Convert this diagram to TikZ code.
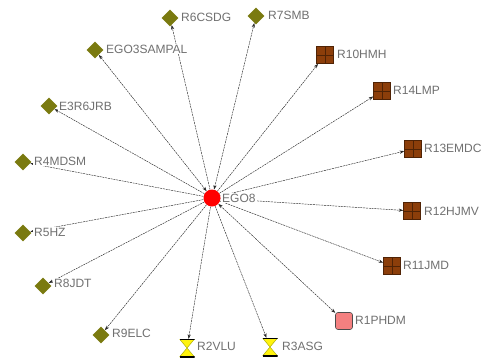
\documentclass[tikz,border=0pt]{standalone}
\usepackage{fontspec}
\setmainfont{Liberation Sans}
\usetikzlibrary{shapes.geometric,arrows.meta,backgrounds}
\definecolor{olivenode}{RGB}{122,122,16}
\definecolor{brownnode}{RGB}{140,62,10}
\definecolor{browndark}{RGB}{80,35,5}
\definecolor{pinknode}{RGB}{244,128,128}
\definecolor{labelgray}{RGB}{112,112,112}
\definecolor{edgegray}{RGB}{40,40,40}
\tikzset{
  olive/.style={diamond,fill=olivenode,inner sep=0pt,minimum width=17pt,minimum height=17pt},
  brownbox/.style={rectangle,fill=brownnode,draw=browndark,line width=0.6pt,inner sep=0pt,minimum size=17pt,
    path picture={\draw[browndark,line width=0.9pt] (path picture bounding box.north) -- (path picture bounding box.south);
                  \draw[browndark,line width=0.9pt] (path picture bounding box.west) -- (path picture bounding box.east);}},
  pinkbox/.style={rectangle,rounded corners=2.5pt,fill=pinknode,draw=black!70,line width=0.6pt,inner sep=0pt,minimum size=17pt},
  hourglass/.style={rectangle,inner sep=0pt,minimum width=15pt,minimum height=18pt,
    path picture={\fill[yellow!95!white] (path picture bounding box.north west) -- (path picture bounding box.north east)
                    -- (path picture bounding box.south west) -- (path picture bounding box.south east) -- cycle;
                  \draw[olivenode!60!yellow,line width=0.5pt] (path picture bounding box.north west) -- (path picture bounding box.south east)
                    (path picture bounding box.north east) -- (path picture bounding box.south west);
                  \draw[black,line width=1.4pt] (path picture bounding box.north west) -- (path picture bounding box.north east)
                    (path picture bounding box.south west) -- (path picture bounding box.south east);}},
  egonode/.style={circle,fill=red,inner sep=0pt,minimum size=17pt},
  lbl/.style={anchor=west,text=labelgray,font=\fontsize{12}{12}\selectfont,fill=white,inner xsep=1pt,inner ysep=0.5pt},
  edge/.style={draw=edgegray,line width=0.45pt,dash pattern=on 2pt off 0.8pt,-{Stealth[length=4.5pt,width=3.2pt]}},
  inedge/.style={draw=edgegray,line width=0.45pt,dash pattern=on 2pt off 0.8pt,{Stealth[length=4.5pt,width=3.2pt]}-{Stealth[length=4.5pt,width=3.2pt]}}
}
\begin{document}
\begin{tikzpicture}[x=1pt,y=-1pt]
\useasboundingbox (0,0) rectangle (487,362);
% nodes
\node[egonode] (ego) at (212,198) {};
\node[olive] (r6) at (170,18) {};
\node[olive] (r7) at (256,16) {};
\node[olive] (e3s) at (95,50) {};
\node[olive] (e3r) at (49,106) {};
\node[olive] (r4) at (23,162) {};
\node[olive] (r5) at (23,233) {};
\node[olive] (r8) at (43,286) {};
\node[olive] (r9) at (101,335) {};
\node[hourglass] (r2) at (187,348) {};
\node[hourglass] (r3) at (270,347) {};
\node[pinkbox] (r1) at (344,321) {};
\node[brownbox] (r11) at (392,266) {};
\node[brownbox] (r12) at (412,211) {};
\node[brownbox] (r13) at (413,149) {};
\node[brownbox] (r14) at (382,91) {};
\node[brownbox] (r10) at (325,55) {};
% edges
\begin{scope}[on background layer]
\draw[edge] (ego) -- (r6);
\draw[inedge] (ego) -- (r7);
\draw[inedge] (ego) -- (e3s);
\draw[edge] (ego) -- (e3r);
\draw[edge] (ego) -- (r4);
\draw[edge] (ego) -- (r5);
\draw[edge] (ego) -- (r8);
\draw[edge] (ego) -- (r9);
\draw[edge] (ego) -- (r2);
\draw[edge] (ego) -- (r3);
\draw[inedge] (ego) -- (r1);
\draw[edge] (ego) -- (r11);
\draw[edge] (ego) -- (r12);
\draw[edge] (ego) -- (r13);
\draw[edge] (ego) -- (r14);
\draw[edge] (ego) -- (r10);
\end{scope}
% labels
\node[lbl] (l6) at (180,17) {R6CSDG};
\node[lbl] (l7) at (267,15) {R7SMB};
\node[lbl] (le3s) at (105,49) {EGO3SAMPAL};
\node[lbl] (le3r) at (58,106) {E3R6JRB};
\node[lbl] (l4) at (33,161) {R4MDSM};
\node[lbl] (l5) at (33,232) {R5HZ};
\node[lbl] (l8) at (53,283) {R8JDT};
\node[lbl] (l9) at (111,333) {R9ELC};
\node[lbl] (l2) at (196,346) {R2VLU};
\node[lbl] (l3) at (281,346) {R3ASG};
\node[lbl] (l1) at (354,320) {R1PHDM};
\node[lbl] (l11) at (402,265) {R11JMD};
\node[lbl] (l12) at (423,211) {R12HJMV};
\node[lbl] (l13) at (423,148) {R13EMDC};
\node[lbl] (l14) at (392,90) {R14LMP};
\node[lbl] (l10) at (336,54) {R10HMH};
\node[lbl] (lego) at (221,198) {EGO8};
\end{tikzpicture}
\end{document}
